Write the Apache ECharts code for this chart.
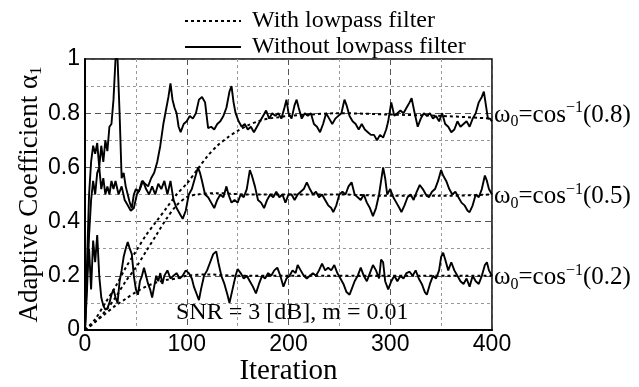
<!DOCTYPE html>
<html>
<head>
<meta charset="utf-8">
<script src="https://cdn.jsdelivr.net/npm/echarts@6/dist/echarts.min.js"></script>
<style>
  html, body { margin: 0; padding: 0; background: #fff; }
  #main { width: 639px; height: 387px; }
</style>
</head>
<body>
<div id="main"></div>
<script>
// 横轴刻度
var xTicks = [0, 100, 200, 300, 400];
// 三个稳态值 (cos ω0)
var targets = [0.8, 0.5, 0.2];
var targetLabels = ['(0.8)', '(0.5)', '(0.2)'];

// 带低通滤波 (虚线)
var lp08 = [[0,0],[10,0.04],[20,0.1],[30,0.16],[40,0.23],[50,0.29],[60,0.35],[70,0.4],[80,0.45],[90,0.5],[100,0.54],[110,0.59],[120,0.64],[130,0.68],[140,0.71],[150,0.735],[160,0.755],[170,0.77],[180,0.78],[190,0.785],[200,0.79],[220,0.795],[250,0.8],[300,0.795],[350,0.79],[400,0.78]];
var lp05 = [[0,0],[10,0.03],[20,0.07],[30,0.12],[40,0.18],[50,0.23],[60,0.29],[70,0.35],[80,0.41],[90,0.46],[100,0.49],[110,0.5],[130,0.505],[160,0.5],[200,0.5],[250,0.5],[300,0.495],[350,0.495],[400,0.5]];
var lp02 = [[0,0],[10,0.03],[20,0.06],[30,0.09],[40,0.115],[50,0.14],[60,0.16],[70,0.175],[80,0.185],[90,0.19],[100,0.2],[120,0.205],[150,0.2],[200,0.2],[300,0.2],[400,0.2]];

// 不带低通滤波 (实线)
var raw08 = [[0,0],[2,0.25],[4,0.5],[6,0.62],[8,0.68],[10,0.65],[12,0.69],[14,0.6],[16,0.68],[18,0.62],[20,0.7],[22,0.66],[24,0.75],[26,0.76],[28,0.85],[30,1.0],[32,1.0],[34,0.8],[36,0.56],[38,0.58],[40,0.53],[42,0.5],[44,0.47],[46,0.45],[48,0.5],[50,0.52],[53,0.51],[56,0.55],[59,0.54],[62,0.53],[65,0.56],[68,0.58],[71,0.62],[74,0.68],[77,0.76],[80,0.82],[82,0.86],[84,0.91],[86,0.85],[88,0.82],[90,0.8],[92,0.75],[94,0.73],[97,0.76],[100,0.77],[103,0.79],[106,0.78],[109,0.8],[112,0.85],[115,0.86],[118,0.84],[121,0.745],[124,0.75],[127,0.74],[130,0.76],[133,0.77],[136,0.79],[139,0.82],[142,0.88],[144,0.9],[146,0.84],[148,0.8],[151,0.77],[154,0.75],[157,0.76],[160,0.74],[163,0.75],[166,0.73],[169,0.75],[172,0.77],[175,0.79],[178,0.81],[181,0.78],[184,0.8],[187,0.79],[190,0.8],[193,0.78],[196,0.82],[198,0.85],[200,0.8],[203,0.78],[206,0.83],[208,0.85],[210,0.82],[213,0.78],[216,0.8],[219,0.79],[222,0.8],[225,0.76],[228,0.75],[231,0.73],[234,0.76],[237,0.8],[240,0.78],[243,0.76],[246,0.78],[249,0.79],[252,0.8],[255,0.85],[257,0.83],[260,0.79],[263,0.77],[266,0.76],[269,0.74],[272,0.76],[275,0.74],[278,0.73],[281,0.72],[284,0.72],[287,0.7],[290,0.72],[293,0.71],[296,0.74],[298,0.77],[301,0.84],[304,0.79],[307,0.8],[310,0.81],[313,0.8],[316,0.82],[319,0.84],[321,0.855],[324,0.8],[327,0.75],[330,0.78],[333,0.8],[336,0.79],[339,0.8],[342,0.78],[345,0.79],[348,0.77],[351,0.8],[354,0.76],[357,0.75],[360,0.73],[363,0.74],[366,0.77],[369,0.75],[372,0.76],[375,0.77],[378,0.75],[381,0.78],[384,0.8],[387,0.84],[390,0.86],[392,0.88],[394,0.83],[396,0.78],[398,0.78],[400,0.77]];
var raw05 = [[0,0],[2,0.15],[4,0.35],[6,0.48],[8,0.55],[10,0.5],[12,0.58],[14,0.6],[16,0.52],[18,0.56],[20,0.5],[22,0.53],[24,0.5],[26,0.55],[28,0.52],[30,0.55],[33,0.5],[36,0.53],[39,0.48],[42,0.46],[45,0.44],[48,0.45],[51,0.5],[54,0.52],[57,0.55],[60,0.52],[63,0.5],[66,0.53],[69,0.5],[72,0.54],[75,0.52],[78,0.55],[81,0.5],[84,0.55],[87,0.48],[90,0.45],[93,0.43],[96,0.41],[99,0.44],[102,0.5],[105,0.52],[108,0.56],[111,0.6],[113,0.58],[115,0.55],[118,0.5],[121,0.49],[124,0.47],[127,0.45],[130,0.48],[133,0.5],[136,0.49],[139,0.53],[141,0.5],[144,0.47],[147,0.48],[150,0.47],[153,0.5],[156,0.49],[159,0.52],[162,0.59],[164,0.57],[167,0.53],[170,0.48],[173,0.47],[176,0.45],[179,0.48],[182,0.5],[185,0.49],[188,0.51],[191,0.49],[194,0.5],[197,0.47],[200,0.5],[203,0.5],[206,0.48],[209,0.5],[212,0.51],[215,0.52],[218,0.545],[221,0.52],[224,0.5],[227,0.51],[230,0.49],[233,0.5],[236,0.48],[239,0.46],[242,0.45],[244,0.435],[247,0.46],[250,0.5],[253,0.51],[256,0.5],[259,0.53],[262,0.545],[265,0.5],[268,0.49],[271,0.48],[274,0.5],[277,0.47],[280,0.45],[283,0.42],[286,0.45],[289,0.5],[291,0.55],[293,0.6],[295,0.56],[297,0.5],[300,0.52],[303,0.49],[306,0.47],[309,0.45],[311,0.435],[314,0.46],[317,0.49],[320,0.5],[323,0.48],[326,0.51],[329,0.535],[332,0.52],[335,0.5],[338,0.49],[341,0.51],[344,0.52],[347,0.55],[350,0.59],[352,0.57],[355,0.55],[358,0.52],[361,0.5],[364,0.51],[367,0.49],[370,0.47],[373,0.46],[376,0.44],[378,0.435],[381,0.46],[384,0.5],[387,0.49],[390,0.52],[393,0.57],[395,0.55],[397,0.52],[400,0.5]];
var raw02 = [[0,0],[2,0.2],[4,0.3],[6,0.15],[8,0.33],[10,0.25],[12,0.35],[14,0.2],[16,0.12],[18,0.09],[20,0.075],[22,0.08],[24,0.1],[26,0.13],[28,0.15],[30,0.12],[32,0.1],[34,0.18],[36,0.22],[38,0.27],[40,0.3],[42,0.325],[44,0.3],[46,0.28],[48,0.2],[50,0.15],[52,0.13],[54,0.18],[56,0.2],[58,0.23],[60,0.2],[62,0.17],[64,0.15],[66,0.12],[68,0.16],[70,0.2],[72,0.18],[74,0.21],[76,0.17],[78,0.2],[81,0.22],[84,0.19],[87,0.2],[90,0.21],[93,0.19],[96,0.2],[99,0.22],[102,0.21],[105,0.19],[107,0.16],[110,0.13],[112,0.11],[114,0.15],[117,0.2],[120,0.22],[123,0.25],[126,0.28],[129,0.29],[131,0.25],[134,0.2],[137,0.17],[140,0.13],[142,0.1],[145,0.15],[148,0.2],[150,0.225],[153,0.21],[156,0.19],[159,0.2],[162,0.18],[165,0.16],[168,0.135],[171,0.17],[174,0.2],[177,0.19],[180,0.21],[183,0.2],[186,0.22],[189,0.23],[192,0.2],[195,0.16],[198,0.19],[201,0.2],[204,0.22],[207,0.21],[209,0.24],[212,0.22],[215,0.2],[218,0.19],[221,0.2],[224,0.21],[227,0.2],[230,0.22],[233,0.245],[236,0.22],[239,0.23],[242,0.22],[245,0.24],[248,0.21],[251,0.19],[254,0.17],[257,0.14],[260,0.13],[262,0.15],[265,0.18],[268,0.2],[271,0.23],[274,0.2],[277,0.18],[280,0.21],[283,0.24],[286,0.22],[289,0.19],[291,0.26],[293,0.25],[295,0.18],[298,0.15],[301,0.18],[304,0.2],[307,0.18],[310,0.2],[313,0.19],[316,0.21],[319,0.215],[322,0.2],[325,0.22],[328,0.19],[331,0.17],[334,0.14],[336,0.13],[339,0.17],[342,0.2],[345,0.19],[348,0.22],[350,0.27],[352,0.285],[354,0.26],[357,0.22],[360,0.25],[363,0.22],[366,0.2],[369,0.18],[372,0.17],[375,0.19],[378,0.16],[381,0.2],[384,0.18],[387,0.17],[390,0.2],[393,0.24],[395,0.25],[397,0.22],[400,0.2]];

var SERIF = '"Liberation Serif", "DejaVu Serif", serif';
var SANS = '"Liberation Sans", Arial, sans-serif';

var chart = echarts.init(document.getElementById('main'));

var lpStyle = {color: '#000', width: 2, type: [3, 3]};
var rawStyle = {color: '#000', width: 1.9, type: 'solid'};

/*图例图标: 点线 / 实线*/
var dotIcon = 'path://M0,0h3v2h-3z M6,0h3v2h-3z M12,0h3v2h-3z M18,0h3v2h-3z M24,0h3v2h-3z M30,0h3v2h-3z M36,0h3v2h-3z M42,0h3v2h-3z M48,0h3v2h-3z M54,0h2v2h-2z';
var solidIcon = 'path://M0,0h56v2h-56z';

/*右侧 ω0 标注用富文本*/
var omegaRich = {
    t: {fontFamily: SERIF, fontSize: 25, color: '#000'},
    sub: {fontFamily: SERIF, fontSize: 16, color: '#000', padding: [14, 0, 0, 0]},
    sup: {fontFamily: SERIF, fontSize: 16, color: '#000', padding: [0, 0, 14, 0]}
};

function lpSeries(data){
    return {
        name: 'With lowpass filter', type: 'line', data: data,
        showSymbol: false, symbol: 'none', smooth: 0.3,
        lineStyle: lpStyle, itemStyle: {color: '#000'}, z: 3
    };
}
function rawSeries(data, idx){
    return {
        name: 'Without lowpass filter', type: 'line', data: data,
        showSymbol: false, symbol: 'none',
        lineStyle: rawStyle, itemStyle: {color: '#000'}, z: 4,
        markPoint: {
            symbol: 'circle', symbolSize: 0, silent: true,
            label: {
                show: true, position: 'right', distance: 2, offset: [0, 2],
                formatter: '{t|ω}{sub|0}{t|=cos}{sup|−1}{t|' + targetLabels[idx] + '}',
                rich: omegaRich
            },
            data: [{coord: [400, targets[idx]]}]
        }
    };
}

var option = {
    backgroundColor: '#fff',
    animation: false,
    grid: {
        left: 85, right: 147, top: 59, bottom: 57,
        outerBoundsMode: 'none', containLabel: false,
        show: true, borderColor: '#000', borderWidth: 1.5, backgroundColor: 'transparent'
    },
    legend: {
        orient: 'vertical', left: 180, top: 4, itemGap: 2,
        itemWidth: 56, itemHeight: 2,
        data: [
            {name: 'With lowpass filter', icon: dotIcon},
            {name: 'Without lowpass filter', icon: solidIcon}
        ],
        textStyle: {fontFamily: SERIF, fontSize: 24, color: '#000', padding: [0, 0, 0, 6]}
    },
    xAxis: {
        type: 'value', min: 0, max: 400, interval: 100,
        name: 'Iteration', nameLocation: 'middle', nameGap: 27, nameMoveOverlap: false,
        nameTextStyle: {fontFamily: SERIF, fontSize: 29, color: '#000'},
        axisLine: {lineStyle: {color: '#000', width: 2}},
        axisTick: {show: false},
        axisLabel: {fontFamily: SANS, fontSize: 23, color: '#000', margin: 3},
        splitLine: {show: true, lineStyle: {color: '#555', width: 1, type: [6, 4]}},
        minorTick: {show: false, splitNumber: 2},
        minorSplitLine: {show: true, lineStyle: {color: '#999', width: 1, type: [3, 3]}}
    },
    yAxis: {
        type: 'value', min: 0, max: 1, interval: 0.2,
        name: '{t|Adaptive Coefficient α}{s|1}', nameLocation: 'middle', nameGap: 40, nameRotate: 90, nameMoveOverlap: false,
        nameTextStyle: {
            rich: {
                t: {fontFamily: SERIF, fontSize: 27, color: '#000'},
                s: {fontFamily: SERIF, fontSize: 17, color: '#000', padding: [14, 0, 0, 0]}
            }
        },
        axisLine: {lineStyle: {color: '#000', width: 2}},
        axisTick: {show: false},
        axisLabel: {fontFamily: SANS, fontSize: 23, color: '#000', margin: 5},
        splitLine: {show: true, lineStyle: {color: '#555', width: 1, type: [6, 4]}},
        minorTick: {show: false, splitNumber: 2},
        minorSplitLine: {show: true, lineStyle: {color: '#999', width: 1, type: [3, 3]}}
    },
    graphic: [{
        type: 'text', left: 176, top: 301,
        style: {text: 'SNR = 3 [dB], m = 0.01', font: '24px ' + SERIF, fill: '#000'}
    }],
    series: [
        lpSeries(lp08), lpSeries(lp05), lpSeries(lp02),
        rawSeries(raw08, 0), rawSeries(raw05, 1), rawSeries(raw02, 2)
    ]
};
chart.setOption(option);
</script>
</body>
</html>
